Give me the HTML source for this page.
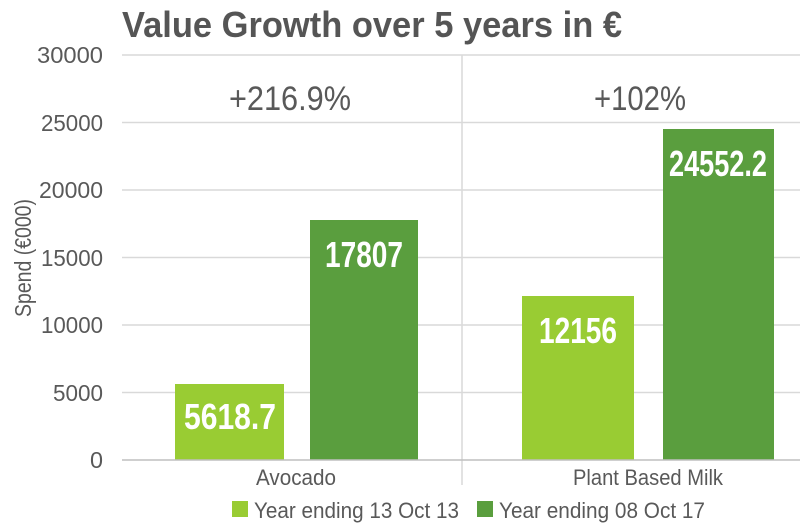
<!DOCTYPE html>
<html><head><meta charset="utf-8"><style>
html,body{margin:0;padding:0;background:#fff;}
svg{display:block;font-family:"Liberation Sans",sans-serif;}
</style></head><body>
<svg width="800" height="530" viewBox="0 0 800 530">
<text x="122" y="37" font-size="36" font-weight="bold" fill="#555" textLength="500" lengthAdjust="spacingAndGlyphs">Value Growth over 5 years in €</text>
<g stroke="#d9d9d9" stroke-width="1.5">
<line x1="122" x2="800" y1="55" y2="55"/>
<line x1="122" x2="800" y1="122.5" y2="122.5"/>
<line x1="122" x2="800" y1="190" y2="190"/>
<line x1="122" x2="800" y1="257.5" y2="257.5"/>
<line x1="122" x2="800" y1="325" y2="325"/>
<line x1="122" x2="800" y1="392.5" y2="392.5"/>
<line x1="462" x2="462" y1="55" y2="485"/>
</g>
<g font-size="23" fill="#595959" text-anchor="end">
<text x="103" y="63" textLength="66" lengthAdjust="spacingAndGlyphs">30000</text>
<text x="103" y="131" textLength="62" lengthAdjust="spacingAndGlyphs">25000</text>
<text x="103" y="198" textLength="64" lengthAdjust="spacingAndGlyphs">20000</text>
<text x="103" y="266" textLength="62" lengthAdjust="spacingAndGlyphs">15000</text>
<text x="103" y="333" textLength="62" lengthAdjust="spacingAndGlyphs">10000</text>
<text x="103" y="401" textLength="50" lengthAdjust="spacingAndGlyphs">5000</text>
<text x="103" y="468" textLength="13" lengthAdjust="spacingAndGlyphs">0</text>
</g>
<text transform="translate(31,258) rotate(-90)" font-size="23" fill="#595959" text-anchor="middle" textLength="118" lengthAdjust="spacingAndGlyphs">Spend (€000)</text>
<rect x="175" y="384" width="109" height="76" fill="#99cc33"/>
<rect x="310" y="220" width="108" height="240" fill="#5a9e3e"/>
<rect x="522" y="296" width="112" height="164" fill="#99cc33"/>
<rect x="663" y="129" width="111" height="331" fill="#5a9e3e"/>
<line x1="122" x2="800" y1="460" y2="460" stroke="#bfbfbf" stroke-width="1.5"/>
<g font-size="36" font-weight="bold" fill="#fff" text-anchor="middle">
<text x="230" y="429" textLength="92" lengthAdjust="spacingAndGlyphs">5618.7</text>
<text x="364" y="267" textLength="78" lengthAdjust="spacingAndGlyphs">17807</text>
<text x="578" y="343" textLength="78" lengthAdjust="spacingAndGlyphs">12156</text>
<text x="718" y="176" textLength="98" lengthAdjust="spacingAndGlyphs">24552.2</text>
</g>
<g font-size="34" fill="#595959" text-anchor="middle">
<text x="290" y="110" textLength="122" lengthAdjust="spacingAndGlyphs">+216.9%</text>
<text x="640" y="110" textLength="92" lengthAdjust="spacingAndGlyphs">+102%</text>
</g>
<g font-size="22" fill="#595959" text-anchor="middle">
<text x="296" y="485" textLength="80" lengthAdjust="spacingAndGlyphs">Avocado</text>
<text x="648" y="485" textLength="150" lengthAdjust="spacingAndGlyphs">Plant Based Milk</text>
</g>
<rect x="232" y="501" width="16" height="16" fill="#99cc33"/>
<text x="254" y="518" font-size="22" fill="#595959" textLength="205" lengthAdjust="spacingAndGlyphs">Year ending 13 Oct 13</text>
<rect x="477" y="501" width="16" height="16" fill="#5a9e3e"/>
<text x="499" y="518" font-size="22" fill="#595959" textLength="206" lengthAdjust="spacingAndGlyphs">Year ending 08 Oct 17</text>
</svg>
</body></html>
